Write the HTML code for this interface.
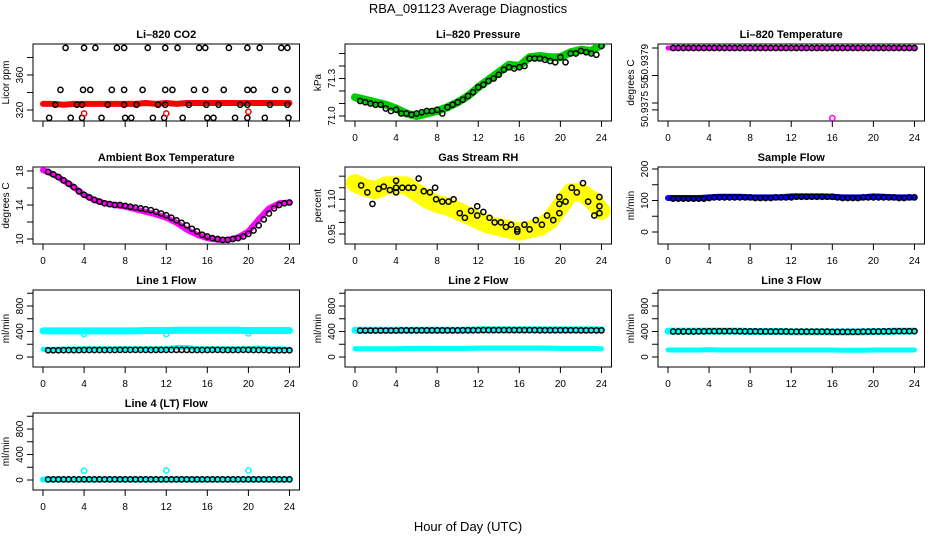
<!DOCTYPE html>
<html><head><meta charset="utf-8"><style>
body{margin:0;background:#fff}
svg{display:block;font-family:"Liberation Sans",sans-serif}
.t{font-size:11px;font-weight:bold;text-anchor:middle}
.tk{font-size:10px;text-anchor:middle}
</style></head><body>
<svg id="c" width="936" height="540" viewBox="0 0 936 540">
<text x="468" y="13" font-size="13" text-anchor="middle">RBA_091123  Average Diagnostics</text>
<text x="468" y="531" font-size="13" text-anchor="middle">Hour of Day (UTC)</text>
</svg>
<script>
const hoursHourly=[0,1,2,3,4,5,6,7,8,9,10,11,12,13,14,15,16,17,18,19,20,21,22,23,24];
const hoursHalf=[0.5,1,1.5,2,2.5,3,3.5,4,4.5,5,5.5,6,6.5,7,7.5,8,8.5,9,9.5,10,10.5,11,11.5,12,12.5,13,13.5,14,14.5,15,15.5,16,16.5,17,17.5,18,18.5,19,19.5,20,20.5,21,21.5,22,22.5,23,23.5,24];
const xTicks=[0,4,8,12,16,20,24];
// CO2
const co2Red=[327,327,326,327,327,327,327,327,327,327,328,327,328,327,328,328,328,328,328,328,328,328,328,328,328];
const co2BlackHours=[2.2,4.0,5.1,7.2,7.9,10.2,11.9,13.1,15.2,15.8,18.1,19.9,21.1,23.2,23.8,1.7,3.9,4.6,6.7,7.9,9.7,11.9,12.6,14.7,15.8,17.6,19.9,20.5,22.6,23.8,1.2,3.3,3.8,6.3,7.9,9.1,11.2,11.9,14.2,15.9,17.1,19.2,19.9,22.1,23.8,0.6,2.7,3.8,5.7,8.0,8.6,10.7,11.8,13.6,16.0,16.6,18.7,19.9,21.6,23.9];
const co2BlackVals=[391,391,391,391,391,391,391,391,391,391,391,391,391,391,391,343,343,343,343,343,343,343,343,343,343,343,343,343,343,343,326,326,326,326,326,326,326,326,326,326,326,326,326,326,326,311,311,311,311,311,311,311,311,311,311,311,311,311,311,311];
// Pressure
const presGreen=[71.15,71.13,71.11,71.09,71.06,71.02,71.00,71.02,71.04,71.07,71.11,71.16,71.23,71.29,71.35,71.41,71.40,71.47,71.48,71.47,71.47,71.51,71.53,71.52,71.57];
const presBlack=[71.12,71.11,71.10,71.09,71.09,71.06,71.04,71.05,71.02,71.02,71.01,71.02,71.03,71.04,71.04,71.05,71.02,71.07,71.09,71.11,71.13,71.16,71.19,71.23,71.25,71.28,71.30,71.33,71.37,71.39,71.38,71.39,71.40,71.46,71.46,71.46,71.45,71.44,71.43,71.47,71.43,71.50,71.50,71.52,71.51,71.50,71.49,71.56];
// LI-820 temperature
const tempMag=[50.9379,50.9379,50.9379,50.9379,50.9379,50.9379,50.9379,50.9379,50.9379,50.9379,50.9379,50.9379,50.9379,50.9379,50.9379,50.9379,50.9379,50.9379,50.9379,50.9379,50.9379,50.9379,50.9379,50.9379,50.9379];
const tempOutlierHour=[16];
const tempOutlierVal=[50.93739];
const tempBlack=[50.9379,50.9379,50.9379,50.9379,50.9379,50.9379,50.9379,50.9379,50.9379,50.9379,50.9379,50.9379,50.9379,50.9379,50.9379,50.9379,50.9379,50.9379,50.9379,50.9379,50.9379,50.9379,50.9379,50.9379,50.9379,50.9379,50.9379,50.9379,50.9379,50.9379,50.9379,50.9379,50.9379,50.9379,50.9379,50.9379,50.9379,50.9379,50.9379,50.9379,50.9379,50.9379,50.9379,50.9379,50.9379,50.9379,50.9379,50.9379];
// Ambient
const ambMag=[18.1,17.6,16.9,16.1,15.2,14.6,14.2,14.0,13.8,13.5,13.2,12.9,12.5,11.9,11.1,10.5,10.1,9.9,9.9,10.2,10.9,12.3,13.6,14.2,14.3];
const ambBlack=[17.9,17.6,17.3,16.9,16.5,16.1,15.6,15.2,14.9,14.6,14.4,14.2,14.1,14.0,14.0,13.9,13.8,13.7,13.6,13.5,13.4,13.2,13.0,12.8,12.5,12.2,11.9,11.6,11.2,10.9,10.5,10.3,10.1,10.0,9.9,9.9,10.0,10.1,10.3,10.6,11.0,11.6,12.3,13.0,13.6,14.0,14.2,14.3];
// RH
const rhYellow=[1.17,1.15,1.14,1.16,1.16,1.16,1.13,1.10,1.08,1.07,1.05,1.03,1.01,0.99,0.98,0.97,0.96,0.97,0.98,1.01,1.07,1.13,1.13,1.10,1.05];
const rhBlackHours=[0.6,1.2,1.7,2.3,2.8,3.4,4,4,4,4.6,5.2,5.7,6.2,6.7,7.3,7.8,7.9,8.5,9.1,9.6,10.2,10.7,11.3,11.9,11.9,12.5,13.1,13.6,14.2,14.7,15.2,15.8,15.8,16.5,17,17.6,18.2,18.7,19.3,19.9,19.9,19.9,20.5,21.1,21.6,22.2,22.7,23.3,23.8,23.8,23.8];
const rhBlackVals=[1.16,1.13,1.08,1.145,1.155,1.14,1.18,1.15,1.13,1.15,1.15,1.15,1.19,1.135,1.13,1.15,1.10,1.09,1.09,1.10,1.04,1.02,1.05,1.07,1.03,1.045,1.02,1.00,1.00,0.98,0.99,0.97,0.96,0.99,0.97,1.01,0.99,1.03,1.01,1.04,1.08,1.11,1.09,1.15,1.13,1.17,1.09,1.03,1.11,1.07,1.04];
// Sample flow
const sampBlue=[108,108,108,108,110,112,112,112,110,110,110,110,113,113,113,113,112,110,110,110,113,112,110,110,110];
const sampBlack=[106,106,106,106,106,106,106,108,110,110,110,110,110,110,110,110,108,108,108,108,110,110,110,110,112,112,112,112,112,112,112,112,110,108,108,108,108,110,110,110,110,110,110,110,108,108,110,110];
// Line flows
const l1CyanHi=[410,410,410,410,410,410,410,410,410,410,415,415,415,420,420,420,420,420,420,420,415,415,415,415,415];
const l1CyanLo=[120,120,125,125,130,130,130,130,130,130,130,130,130,150,150,130,130,130,130,130,130,140,130,130,120];
const l1Black=[105,105,105,108,108,108,108,110,110,110,110,110,110,110,112,112,112,112,112,112,110,112,112,112,112,112,112,112,110,110,110,110,112,112,110,110,110,110,112,112,110,110,110,105,105,105,105,105];
const l1OutHours=[4,12,20];
const l1OutVals=[360,360,370];
const l2CyanHi=[420,420,420,420,420,420,420,420,420,420,420,420,425,425,425,425,425,425,425,425,425,425,425,425,425];
const l2CyanLo=[130,130,130,130,130,135,135,135,135,135,135,135,140,140,140,140,140,140,140,140,135,135,135,135,130];
const l2Black=[415,415,415,415,415,415,415,415,418,418,418,418,418,418,418,418,418,418,418,418,420,420,420,420,422,422,422,422,422,422,422,422,422,422,422,420,420,420,420,420,420,420,420,418,418,418,418,418];
const l3CyanHi=[405,405,405,405,405,405,405,405,400,400,400,400,395,395,395,395,395,395,395,395,400,400,405,405,405];
const l3CyanLo=[110,110,110,110,115,110,110,110,110,110,110,110,110,110,110,110,110,105,105,105,110,110,110,110,110];
const l3Black=[400,400,400,400,400,402,402,405,405,405,405,405,405,402,402,402,402,400,400,400,400,400,400,398,398,398,398,398,398,398,398,395,395,395,395,395,395,398,398,400,400,402,402,405,405,405,405,405];
const l4Cyan=[8,8,8,8,8,8,8,8,8,8,8,8,8,8,8,8,8,8,8,8,8,8,8,8,8];
const l4Black=[10,10,10,10,10,10,10,10,10,10,10,10,10,10,10,10,10,10,10,10,10,10,10,10,10,10,10,10,10,10,10,10,10,10,10,10,10,10,10,10,10,10,10,10,10,10,10,10];
const l4OutHours=[4,12,20];
const l4OutVals=[145,150,150];

const NS="http://www.w3.org/2000/svg";
const svg=document.getElementById('c');
const colX0=[43,355,668], rowTop=[44,167,290,413], PXH=10.27, BOXH=77;
function mk(tag,attrs,parent){const e=document.createElementNS(NS,tag);for(const k in attrs)e.setAttribute(k,attrs[k]);(parent||svg).appendChild(e);return e;}

function panel(o){
  const g=mk('g',{});
  
  
  const x0=colX0[o.col], top=rowTop[o.row];
  const xs=h=>x0+h*PXH;
  const ys=v=>top+o.p1+(v-o.v1)*(o.p2-o.p1)/(o.v2-o.v1);
  const left=x0-10,right=x0+24*PXH+10,bot=top+BOXH;
  const box=mk('rect',{x:left,y:top,width:right-left,height:BOXH,fill:'none',stroke:'#000','stroke-width':1},g);
  
  
  const tt=mk('text',{x:(left+right)/2,y:top-6,class:'t'},g);tt.textContent=o.title;
  
  
  mk('line',{x1:xs(0),x2:xs(24),y1:bot,y2:bot,stroke:'#000'},g);
  xTicks.forEach(h=>{mk('line',{x1:xs(h),x2:xs(h),y1:bot,y2:bot+6,stroke:'#000'},g);
    if(o.xlab){const t=mk('text',{x:xs(h),y:bot+20,class:'tk'},g);t.textContent=h;
      
      }});
  const yv=o.yticks.map(ys);
  mk('line',{x1:left,x2:left,y1:Math.min(...yv),y2:Math.max(...yv),stroke:'#000'},g);
  o.yticks.forEach((v,i)=>{const y=ys(v);mk('line',{x1:left-6,x2:left,y1:y,y2:y,stroke:'#000'},g);
    if(o.ylabels[i]){const ly=y+((o.labelShift&&o.labelShift[i])||0);
      const t=mk('text',{x:left-10,y:ly,class:'tk',transform:`rotate(-90 ${left-10} ${ly})`},g);t.textContent=o.ylabels[i];
      
      }});
  const yl=mk('text',{x:left-24,y:top+BOXH/2,class:'tk',transform:`rotate(-90 ${left-24} ${top+BOXH/2})`},g);yl.textContent=o.ylab;
  
  
  const clip='clip'+o.name;
  const cp=mk('clipPath',{id:clip},g);mk('rect',{x:left,y:top,width:right-left,height:BOXH},cp);
  const pg=mk('g',{'clip-path':`url(#${clip})`},g);
  (o.bands||[]).forEach(b=>{
    const p=mk('polyline',{points:b.vals.map((v,i)=>xs(hoursHourly[i])+','+ys(v)).join(' '),fill:'none',stroke:b.color,'stroke-width':b.w,'stroke-linejoin':'round','stroke-linecap':'round'},pg);
    
    
  });
  (o.pts||[]).forEach(s=>{s.vals.forEach((v,i)=>{
    const c=mk('circle',{cx:xs(s.hours[i]),cy:ys(v),r:2.6,fill:'none',stroke:s.color,'stroke-width':1.5},pg);
    
    
  });});
}
const flowTicks=[0,200,400,600,800,1000], flowLabels=['0','','400','','800',''];
panel({name:'co2-panel',col:0,row:0,title:'Li\u2013820 CO2',ylab:'Licor ppm',v1:320,p1:66,v2:360,p2:31,yticks:[320,340,360,380],ylabels:['320','','360',''],xlab:false,
 bands:[{name:'co2-red-band',vals:co2Red,color:'#ff0000',w:6}],
 pts:[{name:'co2-black-point',hours:co2BlackHours,vals:co2BlackVals,color:'#000'},{name:'co2-red-outlier',hours:[4,12,20],vals:[316,316,318],color:'#ff0000'}]});
panel({name:'pressure-panel',col:1,row:0,title:'Li\u2013820 Pressure',ylab:'kPa',v1:71.0,p1:72,v2:71.3,p2:34.5,yticks:[71.0,71.1,71.2,71.3,71.4,71.5],ylabels:['71.0','','','71.3','',''],xlab:true,
 bands:[{name:'pressure-green-band',vals:presGreen,color:'#00cc00',w:8}],
 pts:[{name:'pressure-black-point',hours:hoursHalf,vals:presBlack,color:'#000'}]});
panel({name:'li820-temp-panel',col:2,row:0,title:'Li\u2013820 Temperature',ylab:'degrees C',v1:50.9379,p1:4,v2:50.9375,p2:59,yticks:[50.93745,50.9375,50.9377,50.9379],ylabels:['','50.9375','50.','50.9379'],labelShift:[0,6,6,14],xlab:true,
 bands:[{name:'temp-magenta-band',vals:tempMag,color:'#ff00ff',w:5}],
 pts:[{name:'temp-black-point',hours:hoursHalf,vals:tempBlack,color:'#000'},{name:'temp-magenta-outlier',hours:tempOutlierHour,vals:tempOutlierVal,color:'#ff00ff'}]});
panel({name:'ambient-panel',col:0,row:1,title:'Ambient Box Temperature',ylab:'degrees C',v1:10,p1:72,v2:18,p2:4,yticks:[10,12,14,16,18],ylabels:['10','','14','','18'],xlab:true,
 bands:[{name:'ambient-magenta-band',vals:ambMag,color:'#ff00ff',w:6}],
 pts:[{name:'ambient-black-point',hours:hoursHalf,vals:ambBlack,color:'#000'}]});
panel({name:'rh-panel',col:1,row:1,title:'Gas Stream RH',ylab:'percent',v1:0.95,p1:67,v2:1.10,p2:32.3,yticks:[0.95,1.00,1.05,1.10,1.15,1.20],ylabels:['0.95','','','1.10','',''],xlab:true,
 bands:[{name:'rh-yellow-band',vals:rhYellow,color:'#ffff00',w:18}],
 pts:[{name:'rh-black-point',hours:rhBlackHours,vals:rhBlackVals,color:'#000'}]});
panel({name:'sample-flow-panel',col:2,row:1,title:'Sample Flow',ylab:'ml/min',v1:0,p1:65,v2:200,p2:2,yticks:[0,50,100,150,200],ylabels:['0','','100','','200'],xlab:true,
 bands:[{name:'sample-blue-band',vals:sampBlue,color:'#0000ff',w:6}],
 pts:[{name:'sample-black-point',hours:hoursHalf,vals:sampBlack,color:'#000'}]});
panel({name:'line1-panel',col:0,row:2,title:'Line 1 Flow',ylab:'ml/min',v1:0,p1:67,v2:800,p2:16,yticks:flowTicks,ylabels:flowLabels,xlab:true,
 bands:[{name:'line1-cyan-high',vals:l1CyanHi,color:'#00ffff',w:7},{name:'line1-cyan-low',vals:l1CyanLo,color:'#00ffff',w:5}],
 pts:[{name:'line1-black-point',hours:hoursHalf,vals:l1Black,color:'#000'},{name:'line1-cyan-outlier',hours:l1OutHours,vals:l1OutVals,color:'#00ffff'}]});
panel({name:'line2-panel',col:1,row:2,title:'Line 2 Flow',ylab:'ml/min',v1:0,p1:67,v2:800,p2:16,yticks:flowTicks,ylabels:flowLabels,xlab:true,
 bands:[{name:'line2-cyan-high',vals:l2CyanHi,color:'#00ffff',w:7},{name:'line2-cyan-low',vals:l2CyanLo,color:'#00ffff',w:5}],
 pts:[{name:'line2-black-point',hours:hoursHalf,vals:l2Black,color:'#000'}]});
panel({name:'line3-panel',col:2,row:2,title:'Line 3 Flow',ylab:'ml/min',v1:0,p1:67,v2:800,p2:16,yticks:flowTicks,ylabels:flowLabels,xlab:true,
 bands:[{name:'line3-cyan-high',vals:l3CyanHi,color:'#00ffff',w:7},{name:'line3-cyan-low',vals:l3CyanLo,color:'#00ffff',w:5}],
 pts:[{name:'line3-black-point',hours:hoursHalf,vals:l3Black,color:'#000'}]});
panel({name:'line4-panel',col:0,row:3,title:'Line 4 (LT) Flow',ylab:'ml/min',v1:0,p1:67,v2:800,p2:16,yticks:flowTicks,ylabels:flowLabels,xlab:true,
 bands:[{name:'line4-cyan-band',vals:l4Cyan,color:'#00ffff',w:6}],
 pts:[{name:'line4-black-point',hours:hoursHalf,vals:l4Black,color:'#000'},{name:'line4-cyan-outlier',hours:l4OutHours,vals:l4OutVals,color:'#00ffff'}]});
</script>
</body></html>
